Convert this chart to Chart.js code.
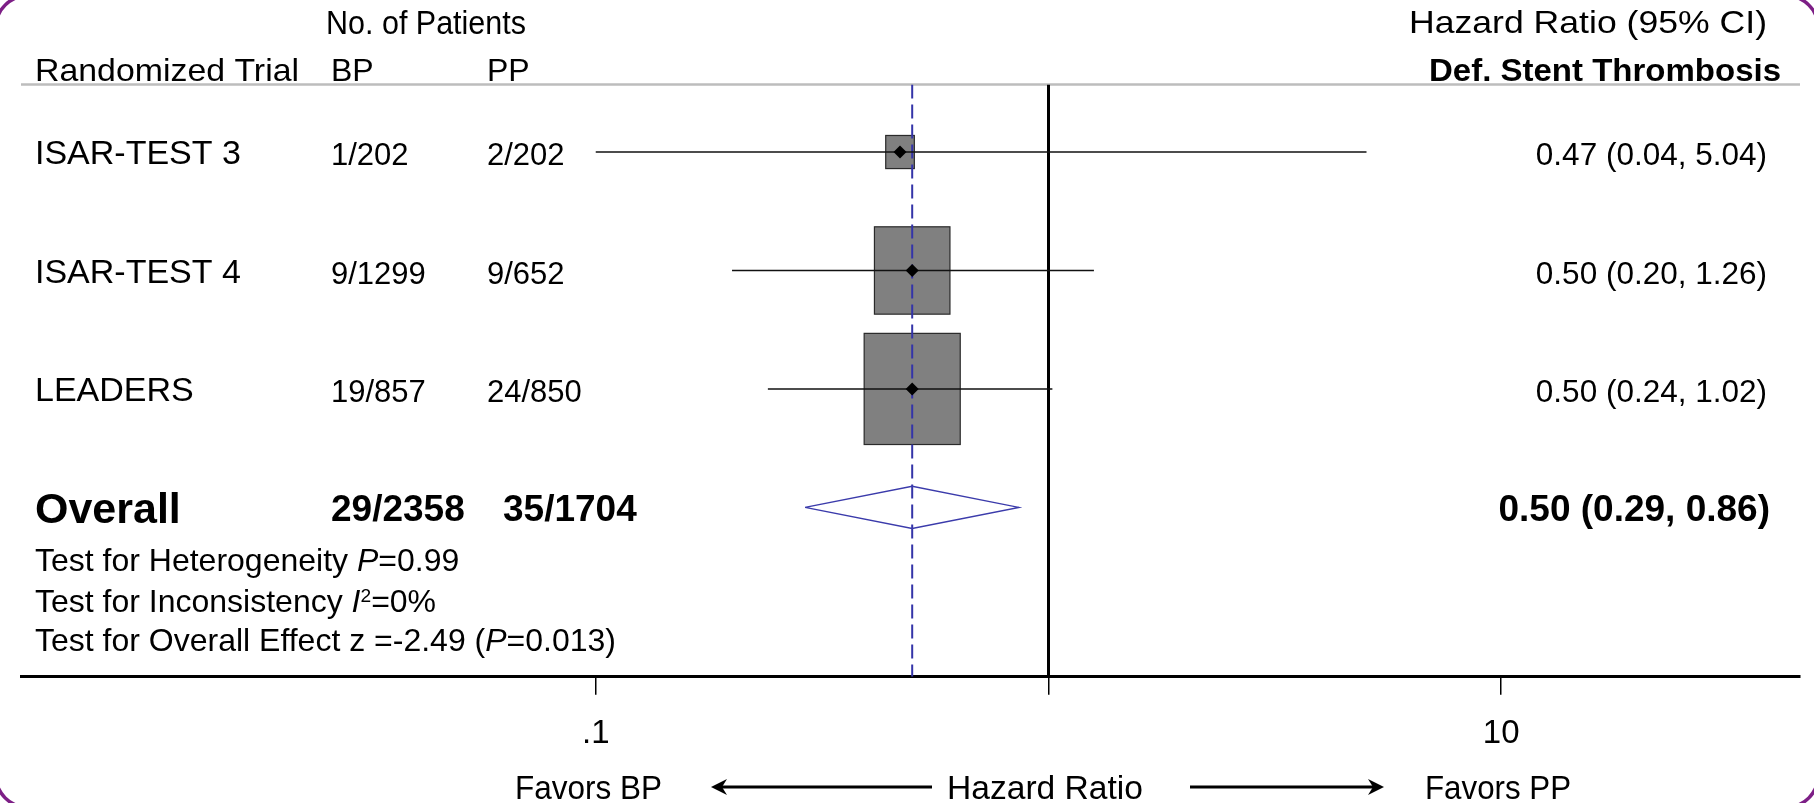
<!DOCTYPE html>
<html><head><meta charset="utf-8">
<script src="https://cdn.jsdelivr.net/npm/chart.js@4.4.0/dist/chart.umd.min.js"></script>
<style>html,body{margin:0;padding:0;background:#fff;overflow:hidden}canvas{display:block}</style>
</head><body>
<canvas id="c" width="1814" height="803"></canvas>
<script>
// ---------------- data ----------------
const trials = ['ISAR-TEST 3', 'ISAR-TEST 4', 'LEADERS'];
const eventsBP = ['1/202', '9/1299', '19/857'];
const eventsPP = ['2/202', '9/652', '24/850'];
const hazardRatio = [0.47, 0.50, 0.50];
const ciLower = [0.04, 0.20, 0.24];
const ciUpper = [5.04, 1.26, 1.02];
const studyWeight = [5.2, 36.2, 58.6];      // % weight (box area)
const overallName = 'Overall';
const overallBP = '29/2358';
const overallPP = '35/1704';
const overallHR = [0.50];
const overallLower = [0.29];
const overallUpper = [0.86];
const xTickValues = [0.1, 1, 10];
const xTickLabels = ['.1', '', '10'];
const nullValue = [1];
const heterogeneityP = '0.99';
const inconsistencyI2 = '0%';
const overallZ = '-2.49';
const overallP = '0.013';

// ---------------- layout / style ----------------
const W = 1814, H = 803;
const FONT = '"Liberation Sans", Arial, Helvetica, sans-serif';
const X_MIN = 0.005377, X_MAX = 45.7;
const Y_MIN = 0.43, Y_MAX = 5.43;
const PLOT_TOP = 84.5, XAXIS_H = 126.2;
const BOX_UNIT = 12.55, BOX_ASPECT = 1.157;
const DIAMOND_H = 0.178;
const CI_CLIP = xTickValues[0];
const overallRow = trials.length + 1;

const datasets = [];
datasets.push({ // point estimates
  data: hazardRatio.map((v, i) => ({x: v, y: i + 1})),
  pointStyle: 'rectRot', pointRadius: 6.5, backgroundColor: '#000', borderColor: '#000', borderWidth: 0, order: 1
});
datasets.push({ // overall diamond
  data: [
    {x: overallLower[0], y: overallRow}, {x: overallHR[0], y: overallRow - DIAMOND_H},
    {x: overallUpper[0], y: overallRow}, {x: overallHR[0], y: overallRow + DIAMOND_H},
    {x: overallLower[0], y: overallRow}],
  showLine: true, borderColor: '#3b3bab', borderWidth: 1.4, pointRadius: 0, fill: false, tension: 0, order: 2
});
hazardRatio.forEach((v, i) => datasets.push({ // confidence intervals
  data: [{x: Math.max(ciLower[i], CI_CLIP), y: i + 1}, {x: ciUpper[i], y: i + 1}],
  showLine: true, borderColor: '#111', borderWidth: 1.5, pointRadius: 0, order: 3
}));
datasets.push({ // overall dashed line
  data: [{x: overallHR[0], y: Y_MIN}, {x: overallHR[0], y: Y_MAX}],
  showLine: true, borderColor: '#3434a8', borderWidth: 2, borderDash: [14, 6], pointRadius: 0, order: 4
});
datasets.push({ // null line
  data: [{x: nullValue[0], y: Y_MIN}, {x: nullValue[0], y: Y_MAX}],
  showLine: true, borderColor: '#000', borderWidth: 3, pointRadius: 0, order: 5
});

function txt(ctx, s, x, cy, o) {
  ctx.save();
  ctx.font = (o.italic ? 'italic ' : '') + (o.bold ? 'bold ' : '') + o.size + 'px ' + FONT;
  ctx.fillStyle = '#000';
  ctx.textBaseline = 'alphabetic';
  const m = ctx.measureText(s).width;
  const sx = o.width ? o.width / m : (o.sx || 1);
  ctx.translate(x, cy + 0.358 * (o.capSize || o.size) + (o.dy || 0));
  ctx.scale(sx, 1);
  ctx.textAlign = o.align || 'left';
  ctx.fillText(s, 0, 0);
  ctx.restore();
  return m * sx;
}
function runs(ctx, parts, x, cy, size) {
  let cx = x;
  parts.forEach(p => {
    const sz = p.sup ? size * 0.6 : size;
    const w = txt(ctx, p.t, cx, cy, {size: sz, italic: p.it, capSize: size, dy: p.sup ? -size * 0.3 : 0});
    cx += w;
  });
}
function arrow(ctx, x1, x2, y) {
  const dir = Math.sign(x2 - x1);
  ctx.save();
  ctx.strokeStyle = '#000'; ctx.fillStyle = '#000'; ctx.lineWidth = 3.2;
  ctx.beginPath(); ctx.moveTo(x1, y); ctx.lineTo(x2 - dir * 10, y); ctx.stroke();
  ctx.beginPath();
  ctx.moveTo(x2, y);
  ctx.lineTo(x2 - dir * 16, y - 8);
  ctx.lineTo(x2 - dir * 11, y);
  ctx.lineTo(x2 - dir * 16, y + 8);
  ctx.closePath(); ctx.fill();
  ctx.restore();
}

const forestPlugin = {
  id: 'forest',
  beforeDatasetsDraw(chart) {
    const ctx = chart.ctx, xs = chart.scales.x, ys = chart.scales.y, ca = chart.chartArea;
    // header rule
    ctx.save();
    ctx.strokeStyle = '#bdbdbd'; ctx.lineWidth = 2.5;
    ctx.beginPath(); ctx.moveTo(ca.left, ca.top); ctx.lineTo(ca.right, ca.top); ctx.stroke();
    // weight boxes
    hazardRatio.forEach((v, i) => {
      const cx = xs.getPixelForValue(v), cy = ys.getPixelForValue(i + 1);
      const w = BOX_UNIT * Math.sqrt(studyWeight[i]), h = w * BOX_ASPECT;
      ctx.fillStyle = '#808080'; ctx.strokeStyle = '#2a2a2a'; ctx.lineWidth = 1.2;
      ctx.fillRect(cx - w / 2, cy - h / 2, w, h);
      ctx.strokeRect(cx - w / 2, cy - h / 2, w, h);
    });
    ctx.restore();
  },
  afterDraw(chart) {
    const ctx = chart.ctx, xs = chart.scales.x, ys = chart.scales.y;
    const colBP = 331, colPP = 487, colName = 35, colHR = 1767;
    // headers
    txt(ctx, 'No. of Patients', 326, 22, {size: 33, width: 200});
    txt(ctx, 'Randomized Trial', colName, 70, {size: 32, width: 264});
    txt(ctx, 'BP', colBP, 70, {size: 32});
    txt(ctx, 'PP', colPP, 70, {size: 32});
    txt(ctx, 'Hazard Ratio (95% CI)', colHR, 22, {size: 32, align: 'right', width: 358});
    txt(ctx, 'Def. Stent Thrombosis', 1781, 70, {size: 31, bold: true, align: 'right', width: 352});
    // study rows
    trials.forEach((name, i) => {
      const cy = ys.getPixelForValue(i + 1);
      txt(ctx, name, colName, cy, {size: 34});
      txt(ctx, eventsBP[i], colBP, cy + 2, {size: 31});
      txt(ctx, eventsPP[i], colPP, cy + 2, {size: 31});
      const s = hazardRatio[i].toFixed(2) + ' (' + ciLower[i].toFixed(2) + ', ' + ciUpper[i].toFixed(2) + ')';
      txt(ctx, s, colHR, cy + 2, {size: 31.5, align: 'right'});
    });
    // overall row
    const oy = ys.getPixelForValue(overallRow);
    txt(ctx, overallName, colName, oy, {size: 43, bold: true});
    txt(ctx, overallBP, colBP, oy, {size: 37, bold: true});
    txt(ctx, overallPP, 503, oy, {size: 37, bold: true});
    const so = overallHR[0].toFixed(2) + ' (' + overallLower[0].toFixed(2) + ', ' + overallUpper[0].toFixed(2) + ')';
    txt(ctx, so, 1770, oy, {size: 37, bold: true, align: 'right'});
    // tests
    runs(ctx, [{t: 'Test for Heterogeneity '}, {t: 'P', it: true}, {t: '=' + heterogeneityP}], colName, 560, 32);
    runs(ctx, [{t: 'Test for Inconsistency '}, {t: 'I', it: true}, {t: '2', sup: true}, {t: '=' + inconsistencyI2}], colName, 600.5, 32);
    runs(ctx, [{t: 'Test for Overall Effect z =' + overallZ + ' ('}, {t: 'P', it: true}, {t: '=' + overallP + ')'}], colName, 640, 32);
    // bottom annotation
    txt(ctx, 'Favors BP', 515, 787, {size: 33, width: 147});
    txt(ctx, 'Hazard Ratio', 947, 787, {size: 33, width: 196});
    txt(ctx, 'Favors PP', 1425, 787, {size: 33, width: 146});
    arrow(ctx, 932, 711, 787);
    arrow(ctx, 1190, 1384, 787);
    // slide frame
    ctx.save();
    ctx.strokeStyle = '#7d1f86'; ctx.lineWidth = 3.5;
    ctx.beginPath();
    ctx.roundRect(-4.4, -4.4, W + 8.8, H + 8.8, 32.5);
    ctx.stroke();
    ctx.restore();
  }
};

new Chart(document.getElementById('c'), {
  type: 'scatter',
  data: {datasets},
  options: {
    responsive: false, devicePixelRatio: 1, animation: false, events: [],
    layout: {padding: {top: PLOT_TOP, left: 21, right: 14, bottom: 0}},
    plugins: {legend: {display: false}, tooltip: {enabled: false}, title: {display: false}},
    scales: {
      x: {
        type: 'logarithmic', min: X_MIN, max: X_MAX, position: 'bottom',
        afterBuildTicks: s => { s.ticks = xTickValues.map(v => ({value: v})); },
        afterFit: s => { s.height = XAXIS_H; },
        ticks: {
          autoSkip: false, maxRotation: 0, minRotation: 0, padding: 19, color: '#000',
          font: {family: FONT, size: 33},
          callback: v => { const k = xTickValues.indexOf(v); return k >= 0 ? xTickLabels[k] : ''; }
        },
        grid: {display: true, drawOnChartArea: false, drawTicks: true, tickLength: 18, color: '#000', lineWidth: 1.5},
        border: {display: true, color: '#000', width: 3}
      },
      y: {type: 'linear', min: Y_MIN, max: Y_MAX, reverse: true, display: false}
    }
  },
  plugins: [forestPlugin]
});
</script>
</body></html>
